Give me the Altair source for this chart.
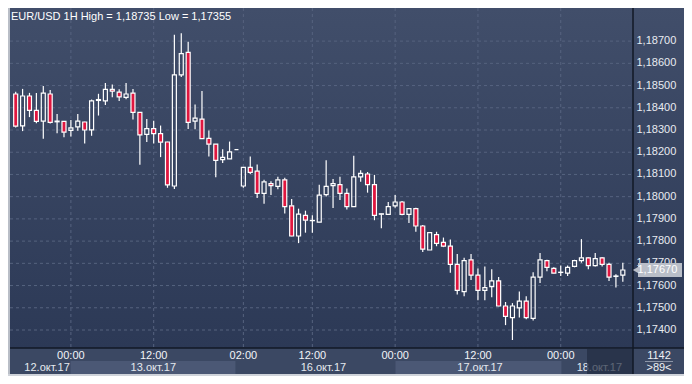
import altair as alt
import pandas as pd

# ---------------- data ----------------
candle_index = list(range(89))
opens = [1.18462, 1.18319, 1.18453, 1.18388, 1.18340, 1.18462, 1.18337, 1.18339, 1.18298, 1.18314,
         1.18336, 1.18301, 1.18433, 1.18431, 1.18483, 1.18470, 1.18447, 1.18466, 1.18379, 1.18280,
         1.18306, 1.18284, 1.18246, 1.18048, 1.18548, 1.18649, 1.18340, 1.18349, 1.18262, 1.18236,
         1.18167, 1.18170, 1.18212, 1.18048, 1.18132, 1.18115, 1.18015, 1.18059, 1.18046, 1.18076,
         1.17959, 1.17823, 1.17916, 1.17892, 1.17885, 1.18009, 1.18050, 1.18054, 1.18015, 1.17955,
         1.18089, 1.18102, 1.18054, 1.17921, 1.17920, 1.17959, 1.17976, 1.17920, 1.17946, 1.17868,
         1.17760, 1.17829, 1.17794, 1.17777, 1.17695, 1.17573, 1.17716, 1.17647, 1.17578, 1.17595,
         1.17621, 1.17508, 1.17456, 1.17500, 1.17530, 1.17452, 1.17638, 1.17712, 1.17677, 1.17659,
         1.17656, 1.17686, 1.17712, 1.17725, 1.17690, 1.17725, 1.17695, 1.17641, 1.17647]
highs = [1.18472, 1.18485, 1.18467, 1.18467, 1.18498, 1.18480, 1.18372, 1.18340, 1.18345, 1.18372,
         1.18337, 1.18437, 1.18463, 1.18511, 1.18505, 1.18483, 1.18511, 1.18485, 1.18380, 1.18350,
         1.18342, 1.18320, 1.18247, 1.18729, 1.18735, 1.18697, 1.18415, 1.18476, 1.18298, 1.18237,
         1.18213, 1.18248, 1.18212, 1.18133, 1.18181, 1.18145, 1.18076, 1.18069, 1.18090, 1.18085,
         1.17989, 1.17946, 1.17937, 1.17916, 1.18054, 1.18164, 1.18080, 1.18090, 1.18037, 1.18184,
         1.18119, 1.18111, 1.18098, 1.17924, 1.17976, 1.18008, 1.17981, 1.17947, 1.17950, 1.17872,
         1.17838, 1.17842, 1.17816, 1.17807, 1.17742, 1.17725, 1.17742, 1.17677, 1.17686, 1.17673,
         1.17638, 1.17526, 1.17521, 1.17573, 1.17552, 1.17660, 1.17747, 1.17716, 1.17682, 1.17690,
         1.17690, 1.17716, 1.17809, 1.17729, 1.17747, 1.17729, 1.17703, 1.17651, 1.17703]
lows = [1.18311, 1.18295, 1.18358, 1.18330, 1.18261, 1.18329, 1.18285, 1.18267, 1.18271, 1.18297,
        1.18239, 1.18274, 1.18365, 1.18412, 1.18447, 1.18430, 1.18438, 1.18347, 1.18144, 1.18246,
        1.18239, 1.18178, 1.18040, 1.18035, 1.18538, 1.18304, 1.18303, 1.18260, 1.18181, 1.18087,
        1.18152, 1.18169, 1.18212, 1.18040, 1.18102, 1.17994, 1.17968, 1.18007, 1.18033, 1.17924,
        1.17822, 1.17791, 1.17838, 1.17838, 1.17884, 1.18001, 1.17949, 1.17985, 1.17942, 1.17954,
        1.18067, 1.18018, 1.17894, 1.17858, 1.17919, 1.17950, 1.17916, 1.17881, 1.17842, 1.17751,
        1.17760, 1.17777, 1.17773, 1.17658, 1.17560, 1.17552, 1.17625, 1.17534, 1.17534, 1.17547,
        1.17507, 1.17422, 1.17355, 1.17456, 1.17448, 1.17443, 1.17612, 1.17664, 1.17655, 1.17643,
        1.17643, 1.17682, 1.17703, 1.17673, 1.17686, 1.17686, 1.17621, 1.17591, 1.17617]
closes = [1.18317, 1.18453, 1.18388, 1.18339, 1.18466, 1.18334, 1.18340, 1.18290, 1.18310, 1.18340,
          1.18300, 1.18431, 1.18437, 1.18483, 1.18475, 1.18449, 1.18462, 1.18379, 1.18278, 1.18306,
          1.18284, 1.18245, 1.18053, 1.18548, 1.18644, 1.18334, 1.18353, 1.18261, 1.18236, 1.18163,
          1.18177, 1.18202, 1.18212, 1.18132, 1.18109, 1.18015, 1.18067, 1.18050, 1.18076, 1.17955,
          1.17823, 1.17921, 1.17894, 1.17893, 1.18007, 1.18046, 1.18059, 1.18015, 1.17955, 1.18089,
          1.18105, 1.18054, 1.17916, 1.17923, 1.17955, 1.17976, 1.17920, 1.17946, 1.17868, 1.17764,
          1.17838, 1.17790, 1.17777, 1.17695, 1.17578, 1.17712, 1.17647, 1.17578, 1.17591, 1.17621,
          1.17508, 1.17461, 1.17508, 1.17530, 1.17456, 1.17638, 1.17716, 1.17682, 1.17656, 1.17660,
          1.17682, 1.17712, 1.17725, 1.17690, 1.17721, 1.17695, 1.17638, 1.17643, 1.17670]

price_ticks = [1.174, 1.175, 1.176, 1.177, 1.178, 1.179, 1.180,
               1.181, 1.182, 1.183, 1.184, 1.185, 1.186, 1.187]
time_tick_pos = [8, 20, 33, 43, 55, 67, 79]
time_tick_labels = ["00:00", "12:00", "02:00", "12:00", "00:00", "12:00", "00:00"]
date_labels = ["12.окт.17", "13.окт.17", "16.окт.17", "17.окт.17", "18.окт.17"]
date_label_pos = [4.55, 19.95, 44.6, 67.3, 84.6]
light_band_start = [7.95, 55.05]
light_band_end = [31.85, 79.1]
last_price = 1.17670
title_text = "EUR/USD 1H High = 1,18735 Low = 1,17355"
corner_top = "1142"
corner_bottom = ">89<"

# ---------------- styling ----------------
W, H = 676, 368
PW, PH = 625, 340
FONT = "Liberation Sans Narrow, Arial Narrow, Liberation Sans, sans-serif"
GRID = "#56637f"
RED = "#e0163f"
PANEL = "#3b4863"
LIGHT = "#4b5875"

XS = alt.Scale(domain=[-0.39, 88.75], range=[0, PW], nice=False, zero=False)
YS = alt.Scale(domain=[1.17319, 1.18849], range=[PH, 0], nice=False, zero=False)

one = pd.DataFrame({"k": [0]})
candles = pd.DataFrame({"i": candle_index, "open": opens, "high": highs,
                        "low": lows, "close": closes})

grad = alt.LinearGradient(
    gradient="linear",
    stops=[alt.GradientStop(color="#414e6a", offset=0),
           alt.GradientStop(color="#2c3956", offset=1)],
    x1=0, x2=0, y1=0, y2=1)

bg = alt.Chart(one).mark_rect(fill=grad).encode(
    x=alt.value(0), x2=alt.value(W), y=alt.value(0), y2=alt.value(PH))

hgrid = alt.Chart(pd.DataFrame({"p": price_ticks})).mark_rule(
    color=GRID, strokeDash=[3, 3], strokeWidth=1).encode(
    y=alt.Y("p:Q", scale=YS, axis=None), x=alt.value(2), x2=alt.value(PW))

vgrid = alt.Chart(pd.DataFrame({"t": time_tick_pos})).mark_rule(
    color=GRID, strokeDash=[3, 3], strokeWidth=1).encode(
    x=alt.X("t:Q", scale=XS, axis=None), y=alt.value(0), y2=alt.value(PH))

base = alt.Chart(candles).transform_calculate(
    top="max(datum.open, datum.close)", bot="min(datum.open, datum.close)")
xc = alt.X("i:Q", scale=XS, axis=None)

upper = base.mark_rule(color="white", strokeWidth=1.2).encode(
    x=xc, y=alt.Y("high:Q", scale=YS, axis=None), y2="top:Q")
lower = base.mark_rule(color="white", strokeWidth=1.2).encode(
    x=xc, y=alt.Y("bot:Q", scale=YS, axis=None), y2="low:Q")
body = base.mark_bar(width=4, stroke="white", strokeWidth=1.2).encode(
    x=xc, y=alt.Y("open:Q", scale=YS, axis=None), y2="close:Q",
    fill=alt.condition("datum.close < datum.open", alt.value(RED), alt.value("transparent")))

# bottom panel
bottom_bg = alt.Chart(one).mark_rect(fill=PANEL).encode(
    x=alt.value(0), x2=alt.value(W), y=alt.value(PH), y2=alt.value(366))
bands = alt.Chart(pd.DataFrame({"s": light_band_start, "e": light_band_end})).mark_rect(
    fill=LIGHT).encode(x=alt.X("s:Q", scale=XS, axis=None), x2="e:Q",
                       y=alt.value(353), y2=alt.value(366))
time_text = alt.Chart(pd.DataFrame({"t": time_tick_pos, "lab": time_tick_labels})).mark_text(
    font=FONT, fontSize=11, color="#f2f4f8", baseline="middle", align="center").encode(
    x=alt.X("t:Q", scale=XS, axis=None), y=alt.value(347.5), text="lab:N")
date_text = alt.Chart(pd.DataFrame({"d": date_label_pos, "lab": date_labels})).mark_text(
    font=FONT, fontSize=11, color="#e4e8ef", baseline="middle", align="center").encode(
    x=alt.X("d:Q", scale=XS, axis=None), y=alt.value(360), text="lab:N")
hover_box = alt.Chart(one).mark_rect(fill="#222c42", opacity=0.7).encode(
    x=alt.value(579), x2=alt.value(PW), y=alt.value(PH + 1), y2=alt.value(366))

hsep = alt.Chart(one).mark_rule(color="#121826", strokeWidth=1.5).encode(
    x=alt.value(0), x2=alt.value(W), y=alt.value(PH))
vsep = alt.Chart(one).mark_rule(color="#121826", strokeWidth=1.5).encode(
    x=alt.value(PW), y=alt.value(0), y2=alt.value(366))

# right axis labels
price_text = alt.Chart(pd.DataFrame({"p": price_ticks})).transform_calculate(
    lab="replace(format(datum.p, '.5f'), '.', ',')").mark_text(
    font=FONT, fontSize=11, color="#e8ebf1", baseline="middle", align="left").encode(
    x=alt.value(PW + 3.5), y=alt.Y("p:Q", scale=YS, axis=None), text="lab:N")

# last price tag
tag_df = pd.DataFrame({"p": [last_price]})
tag_rect = alt.Chart(tag_df).transform_calculate(
    lo="datum.p - 0.00031", hi="datum.p + 0.00031").mark_rect(fill="#b9bec8").encode(
    x=alt.value(PW + 5), x2=alt.value(PW + 49),
    y=alt.Y("lo:Q", scale=YS, axis=None), y2="hi:Q")
tag_tip = alt.Chart(tag_df).mark_point(shape="triangle-left", filled=True, size=70,
                                        color="#b9bec8", opacity=1).encode(
    x=alt.value(PW + 3.5), y=alt.Y("p:Q", scale=YS, axis=None))
tag_text = alt.Chart(tag_df).transform_calculate(
    lab="replace(format(datum.p, '.5f'), '.', ',')").mark_text(
    font=FONT, fontSize=11, color="#ffffff", baseline="middle", align="left").encode(
    x=alt.value(PW + 4.5), y=alt.Y("p:Q", scale=YS, axis=None), text="lab:N")

# title
title = alt.Chart(one).mark_text(
    font=FONT, fontSize=11, color="#ffffff", baseline="middle", align="left").encode(
    x=alt.value(3), y=alt.value(9), text=alt.value(title_text))

# corner box
corner = alt.Chart(pd.DataFrame({"lab": [corner_top, corner_bottom], "yy": [347.5, 360]})).mark_text(
    font=FONT, fontSize=11, color="#eef1f5", baseline="middle", align="center").encode(
    x=alt.value(651), y=alt.Y("yy:Q", scale=None), text="lab:N")
corner_line = alt.Chart(one).mark_rule(color="#8d96a8", strokeWidth=1).encode(
    x=alt.value(637), x2=alt.value(665), y=alt.value(353.5))

# frame strips
left_strip = alt.Chart(one).mark_rect(fill="#b9bec7").encode(
    x=alt.value(0), x2=alt.value(2), y=alt.value(0), y2=alt.value(H))
bottom_strip = alt.Chart(one).mark_rect(fill="#cfd3da").encode(
    x=alt.value(0), x2=alt.value(W), y=alt.value(366), y2=alt.value(H))

chart = alt.layer(
    bg, hgrid, vgrid, upper, lower, body,
    bottom_bg, bands, time_text, date_text, hover_box, hsep, vsep,
    price_text, tag_rect, tag_tip, tag_text, title, corner, corner_line,
    left_strip, bottom_strip
).properties(
    width=W, height=H, autosize=alt.AutoSizeParams(type="none"), padding=0,
    background=PANEL
).configure_view(strokeWidth=0)

chart.save("out.html", embed_options={"renderer": "svg", "actions": False})
